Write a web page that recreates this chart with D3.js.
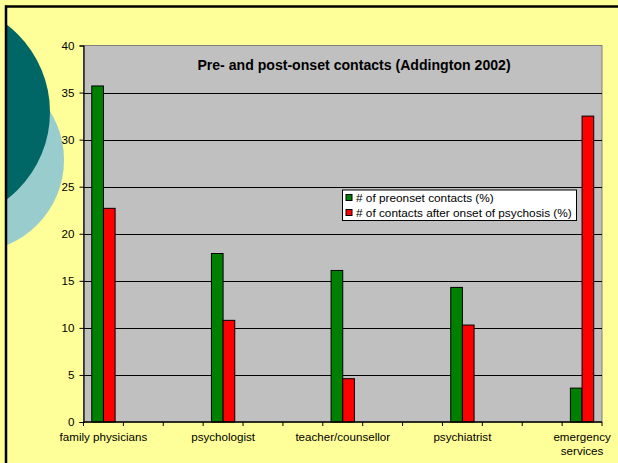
<!DOCTYPE html>
<html>
<head>
<meta charset="utf-8">
<script src="https://cdn.jsdelivr.net/npm/d3@7"></script>
<style>
  html, body { margin: 0; padding: 0; background: #FFFF99; }
  svg { display: block; font-family: "Liberation Sans", Arial, sans-serif; }
</style>
</head>
<body>
<svg id="chart" width="618" height="463"></svg>
<script>
// Data: contacts before and after onset (Addington 2002), percent
const categories = ["family physicians", "psychologist", "teacher/counsellor", "psychiatrist", "emergency services"];
const preonset = [35.7, 17.9, 16.1, 14.3, 3.6];
const postonset = [22.7, 10.8, 4.6, 10.3, 32.5];
const seriesNames = ["# of preonset contacts (%)", "# of contacts after onset of psychosis (%)"];
const seriesColors = ["#008000", "#FF0000"];
const yTicks = [0, 5, 10, 15, 20, 25, 30, 35, 40];
const slotsPerCategory = 3;   // category axis has two unlabeled slots between groups

const svg = d3.select("#chart");
const W = 618, H = 463;

// slide background and frame
svg.append("rect").attr("width", W).attr("height", H).attr("fill", "#FFFF99");

const defs = svg.append("defs");
defs.append("clipPath").attr("id", "slideClip")
  .append("rect").attr("x", 7).attr("y", 7).attr("width", W).attr("height", H);

const deco = svg.append("g").attr("clip-path", "url(#slideClip)");
deco.append("circle").attr("cx", -28).attr("cy", 160).attr("r", 92).attr("fill", "#99CCCC");
deco.append("circle").attr("cx", -60).attr("cy", 112).attr("r", 110).attr("fill", "#006666");

svg.append("line").attr("x1", 5).attr("x2", W).attr("y1", 6.5).attr("y2", 6.5)
  .attr("stroke", "#000").attr("stroke-width", 2.5);
svg.append("line").attr("x1", 6).attr("x2", 6).attr("y1", 5.5).attr("y2", H)
  .attr("stroke", "#000").attr("stroke-width", 2.5);

// plot area
const plot = { left: 83.5, right: 602, top: 45.5, bottom: 422 };

const nSlots = (categories.length - 1) * slotsPerCategory + 1;
const x = d3.scaleBand().domain(d3.range(nSlots)).range([plot.left, plot.right]).padding(0);
const y = d3.scaleLinear().domain([0, 40]).range([plot.bottom, plot.top]);

svg.append("rect")
  .attr("x", plot.left).attr("y", plot.top)
  .attr("width", plot.right - plot.left).attr("height", plot.bottom - plot.top)
  .attr("fill", "#C0C0C0").attr("stroke", "#808080").attr("stroke-width", 1);

// gridlines
svg.append("g").selectAll("line").data(yTicks.filter(d => d > 0 && d < 40)).join("line")
  .attr("x1", plot.left).attr("x2", plot.right)
  .attr("y1", d => Math.round(y(d)) + 0.5).attr("y2", d => Math.round(y(d)) + 0.5)
  .attr("stroke", "#000").attr("stroke-width", 1);

// bars
const groupWidth = x.bandwidth() * 0.585;
const inner = d3.scaleBand().domain([0, 1]).range([0, groupWidth]).padding(0);
const rows = categories.map((c, i) => ({ cat: c, slot: i * slotsPerCategory, values: [preonset[i], postonset[i]] }));

const groups = svg.append("g").selectAll("g").data(rows).join("g")
  .attr("transform", d => `translate(${x(d.slot) + (x.bandwidth() - groupWidth) / 2},0)`);
groups.selectAll("rect").data(d => d.values.map((v, s) => ({ v, s }))).join("rect")
  .attr("x", d => inner(d.s))
  .attr("width", inner.bandwidth())
  .attr("y", d => y(d.v))
  .attr("height", d => y(0) - y(d.v))
  .attr("fill", d => seriesColors[d.s])
  .attr("stroke", "#000").attr("stroke-width", 1);

// y axis
const yAxis = d3.axisLeft(y).tickValues(yTicks).tickSize(4).tickPadding(5).tickFormat(d3.format("d"));
const gy = svg.append("g").attr("transform", `translate(${plot.left},0)`).call(yAxis);
gy.select(".domain").attr("stroke", "#000").attr("stroke-width", 1.2);
gy.selectAll(".tick line").attr("stroke", "#000");
gy.selectAll(".tick text").attr("font-size", 11.6).attr("fill", "#000")
  .attr("font-family", "Liberation Sans, Arial, sans-serif");

// x axis: tick marks on every slot boundary, labels on category slots
const xAxisG = svg.append("g");
xAxisG.append("line").attr("x1", plot.left).attr("x2", plot.right)
  .attr("y1", plot.bottom).attr("y2", plot.bottom).attr("stroke", "#000").attr("stroke-width", 1.5);
const bounds = d3.range(nSlots + 1).map(i => plot.left + i * x.step());
xAxisG.selectAll("line.tk").data(bounds).join("line").attr("class", "tk")
  .attr("x1", d => d).attr("x2", d => d)
  .attr("y1", plot.bottom).attr("y2", plot.bottom + 4)
  .attr("stroke", "#000").attr("stroke-width", 1);

const labels = xAxisG.selectAll("text").data(rows).join("text")
  .attr("x", d => x(d.slot) + x.bandwidth() / 2)
  .attr("y", 441)
  .attr("text-anchor", "middle")
  .attr("font-size", 11.6).attr("fill", "#000");
labels.each(function (d) {
  const el = d3.select(this);
  const words = d.cat === "emergency services" ? ["emergency", "services"] : [d.cat];
  words.forEach((w, i) => {
    el.append("tspan").attr("x", x(d.slot) + x.bandwidth() / 2).attr("dy", i === 0 ? 0 : 13.5).text(w);
  });
});

// title
svg.append("text")
  .attr("x", 354).attr("y", 69.5)
  .attr("text-anchor", "middle")
  .attr("font-size", 14.1).attr("font-weight", "bold").attr("fill", "#000")
  .text("Pre- and post-onset contacts (Addington 2002)");

// legend
const lg = svg.append("g").attr("transform", "translate(342.5,190)");
lg.append("rect").attr("width", 234).attr("height", 30.5)
  .attr("fill", "#fff").attr("stroke", "#000").attr("stroke-width", 1);
seriesNames.forEach((name, i) => {
  lg.append("rect").attr("x", 3.5).attr("y", 4.5 + i * 15).attr("width", 6).attr("height", 6)
    .attr("fill", seriesColors[i]).attr("stroke", "#000").attr("stroke-width", 1);
  lg.append("text").attr("x", 13.5).attr("y", 12 + i * 15)
    .attr("font-size", 11.8).attr("fill", "#000").text(name);
});
</script>
</body>
</html>
